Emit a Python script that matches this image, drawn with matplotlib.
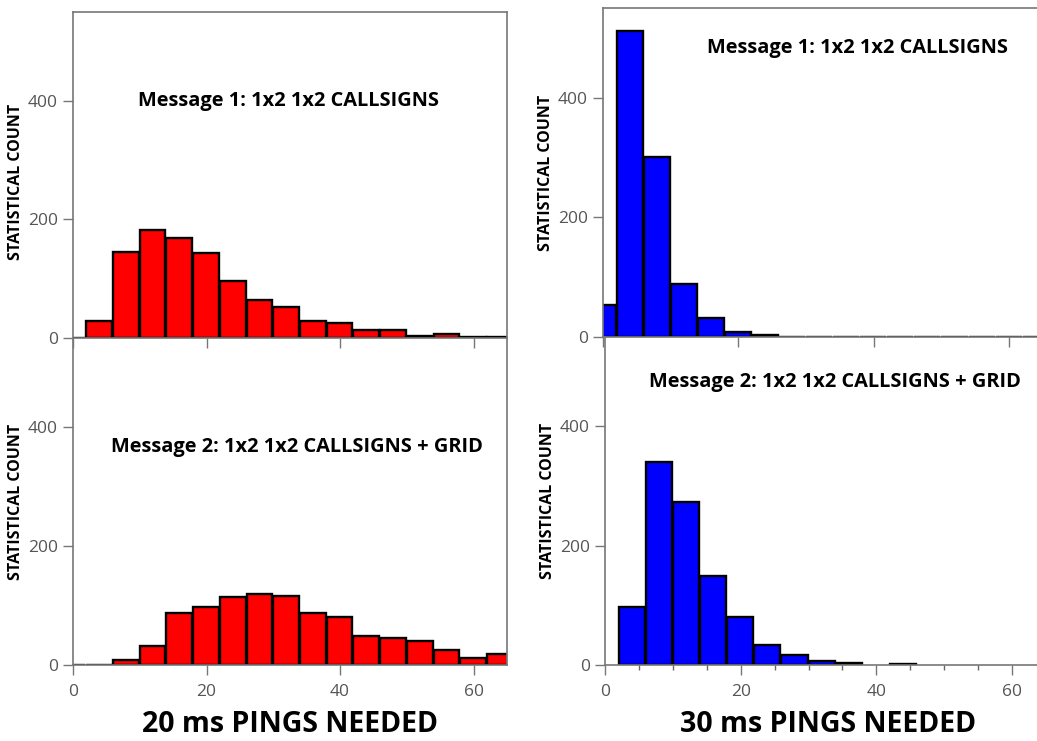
import matplotlib.pyplot as plt
from matplotlib.ticker import MultipleLocator

# histogram bins (left edge of each 4-ping bin) and counts
bins_all = [-2, 2, 6, 10, 14, 18, 22, 26, 30, 34, 38, 42, 46, 50, 54, 58, 62]

# 20 ms pings
msg1_20ms = [0, 29, 145, 182, 168, 144, 96, 64, 53, 29, 26, 14, 14, 4, 7, 2, 2]
msg2_20ms = [0, 0, 8, 32, 88, 98, 114, 119, 116, 88, 80, 49, 46, 40, 26, 12, 18]

# 30 ms pings
msg1_30ms = [53, 512, 301, 89, 31, 9, 3, 0, 0, 0, 0, 0, 0, 0, 0, 0, 0]
bins_msg2_30ms = [2, 6, 10, 14, 18, 22, 26, 30, 34, 42]
msg2_30ms = [98, 340, 274, 150, 80, 33, 17, 6, 3, 2]

title1 = "Message 1: 1x2 1x2 CALLSIGNS"
title2 = "Message 2: 1x2 1x2 CALLSIGNS + GRID"

plt.rcParams['font.family'] = ['Open Sans', 'DejaVu Sans']

W, H = 1037, 741
fig = plt.figure(figsize=(W / 100, H / 100), dpi=100)


def add_px_axes(x0, top, x1, bottom):
    return fig.add_axes([x0 / W, 1 - bottom / H, (x1 - x0) / W, (bottom - top) / H])


def style(ax, top_panel, minor=False):
    ax.set_xlim(0, 65)
    ax.set_ylim(0, 550)
    ax.set_yticks([0, 200, 400])
    ax.xaxis.set_major_locator(MultipleLocator(20))
    if minor:
        ax.xaxis.set_minor_locator(MultipleLocator(5))
        ax.tick_params(axis='x', which='minor', direction='out', length=3.5,
                       width=1, color='#666666')
    for s in ax.spines.values():
        s.set_color('#777777')
        s.set_linewidth(1.2)
    if not top_panel:
        ax.spines['top'].set_visible(False)
    ax.tick_params(axis='both', which='major', direction='out', length=7.5,
                   width=1, color='#777777', labelcolor='#555555', labelsize=12.5)
    ax.tick_params(axis='x', pad=6)
    if top_panel:
        ax.tick_params(axis='x', labelbottom=False)
    ax.set_ylabel("STATISTICAL COUNT", fontsize=11.5, fontweight='bold')
    ax.patch.set_alpha(0)


red = '#ff0000'
blue = '#0000ff'

# left column (20 ms)
ax_tl = add_px_axes(73, 12, 507, 338)
ax_tl.bar(bins_all, msg1_20ms, width=3.85, align='edge', color=red,
          edgecolor='black', linewidth=1.7)
style(ax_tl, True)
ax_tl.text(32.3, 400, title1, ha='center', va='center', fontsize=14.4, fontweight='bold')
ax_tl.yaxis.set_label_coords(-0.113, 0.48)

ax_bl = add_px_axes(73, 338, 507, 665)
ax_bl.bar(bins_all, msg2_20ms, width=3.85, align='edge', color=red,
          edgecolor='black', linewidth=1.7)
style(ax_bl, False)
ax_bl.text(33.6, 366, title2, ha='center', va='center', fontsize=14.4, fontweight='bold')
ax_bl.yaxis.set_label_coords(-0.113, 0.5)

# right column (30 ms)
ax_tr = add_px_axes(603, 8, 1043, 337)
ax_tr.bar(bins_all, msg1_30ms, width=3.85, align='edge', color=blue,
          edgecolor='black', linewidth=1.7)
style(ax_tr, True)
ax_tr.text(37.6, 483, title1, ha='center', va='center', fontsize=14.4, fontweight='bold')
ax_tr.yaxis.set_label_coords(-0.111, 0.5)

ax_br = add_px_axes(605, 337, 1046, 665)
ax_br.bar(bins_msg2_30ms, msg2_30ms, width=3.85, align='edge', color=blue,
          edgecolor='black', linewidth=1.7)
style(ax_br, False, minor=True)
ax_br.text(33.9, 474, title2, ha='center', va='center', fontsize=14.4, fontweight='bold')
ax_br.yaxis.set_label_coords(-0.111, 0.5)

fig.text(290 / W, 1 - 725 / H, "20 ms PINGS NEEDED", ha='center', va='center',
         fontsize=20.5, fontweight='bold')
fig.text(828 / W, 1 - 725 / H, "30 ms PINGS NEEDED", ha='center', va='center',
         fontsize=20.5, fontweight='bold')

fig.savefig("out.png", dpi=100)
